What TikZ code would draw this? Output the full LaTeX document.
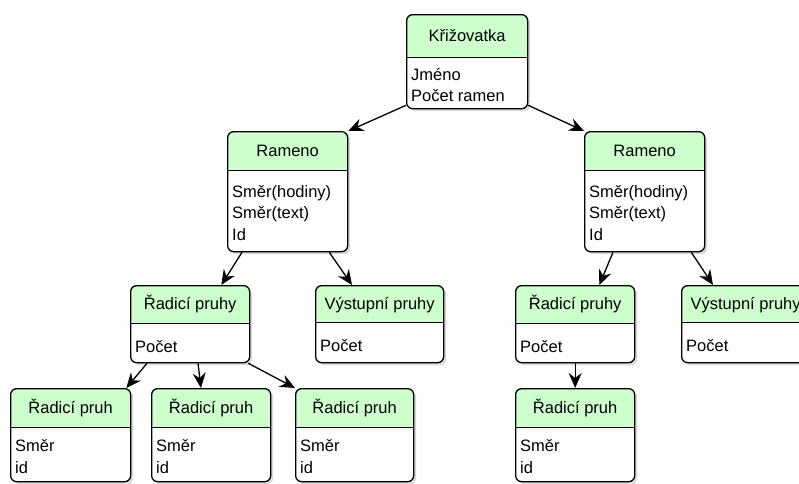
\documentclass[tikz,border=0pt]{standalone}
\usepackage{fontspec}
\setmainfont{Liberation Sans}
\usetikzlibrary{arrows.meta,shadows,calc}

\definecolor{hdrfill}{RGB}{204,255,204}

% one entity: name, x, y (top left), width, height, header height, title, fields
\newcommand{\entity}[8]{%
	\def\hdrh{#6pt}%
	\node[entity, minimum width=#4pt, minimum height=#5pt] (#1) at (#2,#3) {};
	\draw[sep] ([yshift=-#6pt]#1.north west) -- ([yshift=-#6pt]#1.north east);
	\node[enttitle] (#1-title) at ([yshift=-#6pt/2]#1.north) {#7};
	\node[entfields] (#1-fields) at ($([yshift=-#6pt]#1.north west)!0.5!(#1.south west)$) {#8};
}

\begin{document}
\begin{tikzpicture}[x=1pt,y=-1pt]

		\tikzstyle{entity}=[draw, rectangle, anchor=north west, fill=white, line width=1.3pt, rounded corners=6pt,
			drop shadow={shadow xshift=2.5pt, shadow yshift=-2.5pt, opacity=0.3},
			path picture={\fill[hdrfill] (path picture bounding box.north west) rectangle ([yshift=-\hdrh]path picture bounding box.north east);}]
		\tikzstyle{sep}=[line width=0.9pt]
		\tikzstyle{enttitle}=[inner sep=0pt, text height=11.8pt, text depth=0pt, font=\fontsize{16.5}{21}\selectfont]
		\tikzstyle{entfields}=[anchor=west, align=left, inner xsep=5pt, inner ysep=0pt, yshift=-5pt,
			font=\fontsize{16.5}{21.5}\selectfont, execute at begin node=\strut, execute at end node=\strut]

		\useasboundingbox (0,0) rectangle (799,483);

		\entity{kriz}{406}{14}{121}{94}{43}{Křižovatka}{Jméno\\Počet ramen}

		\entity{ramL}{227}{131}{120}{120}{39}{Rameno}{Směr(hodiny)\\Směr(text)\\Id}
		\entity{ramR}{584}{131}{120}{120}{39}{Rameno}{Směr(hodiny)\\Směr(text)\\Id}

		\entity{radpL}{130}{285}{119}{77}{38}{Řadicí pruhy}{Počet}
		\entity{vysL}{315}{285}{128}{77}{37}{Výstupní pruhy}{Počet}
		\entity{radpR}{515}{285}{119}{77}{38}{Řadicí pruhy}{Počet}
		\entity{vysR}{681}{285}{128}{77}{37}{Výstupní pruhy}{Počet}

		\entity{rad1}{10}{388}{120}{93}{39}{Řadicí pruh}{Směr\\id}
		\entity{rad2}{151}{388}{119}{93}{39}{Řadicí pruh}{Směr\\id}
		\entity{rad3}{295}{388}{118}{93}{39}{Řadicí pruh}{Směr\\id}
		\entity{rad4}{515}{388}{119}{93}{39}{Řadicí pruh}{Směr\\id}

		\tikzstyle{link}=[-{Stealth[length=15pt,width=13pt,inset=5pt]}, line width=1.3pt]

		\draw[link] ([yshift=4pt]kriz.south west) -- (ramL.north east);
		\draw[link] ([yshift=4pt]kriz.south east) -- (ramR.north west);

		\draw[link] ([xshift=15pt]ramL.south west) -- ([xshift=-29pt]radpL.north east);
		\draw[link] ([xshift=-19pt]ramL.south east) -- ([xshift=37pt]vysL.north west);
		\draw[link] ([xshift=29pt]ramR.south west) -- ([xshift=-36pt]radpR.north east);
		\draw[link] ([xshift=-14pt]ramR.south east) -- ([xshift=32pt]vysR.north west);

		\draw[link] ([xshift=17pt]radpL.south west) -- ([xshift=-5pt]rad1.north east);
		\draw[link] ([xshift=68pt]radpL.south west) -- ([xshift=50pt]rad2.north west);
		\draw[link] ([xshift=-2pt]radpL.south east) -- (rad3.north west);
		\draw[link] (radpR.south) -- (rad4.north);

	\end{tikzpicture}
\end{document}
